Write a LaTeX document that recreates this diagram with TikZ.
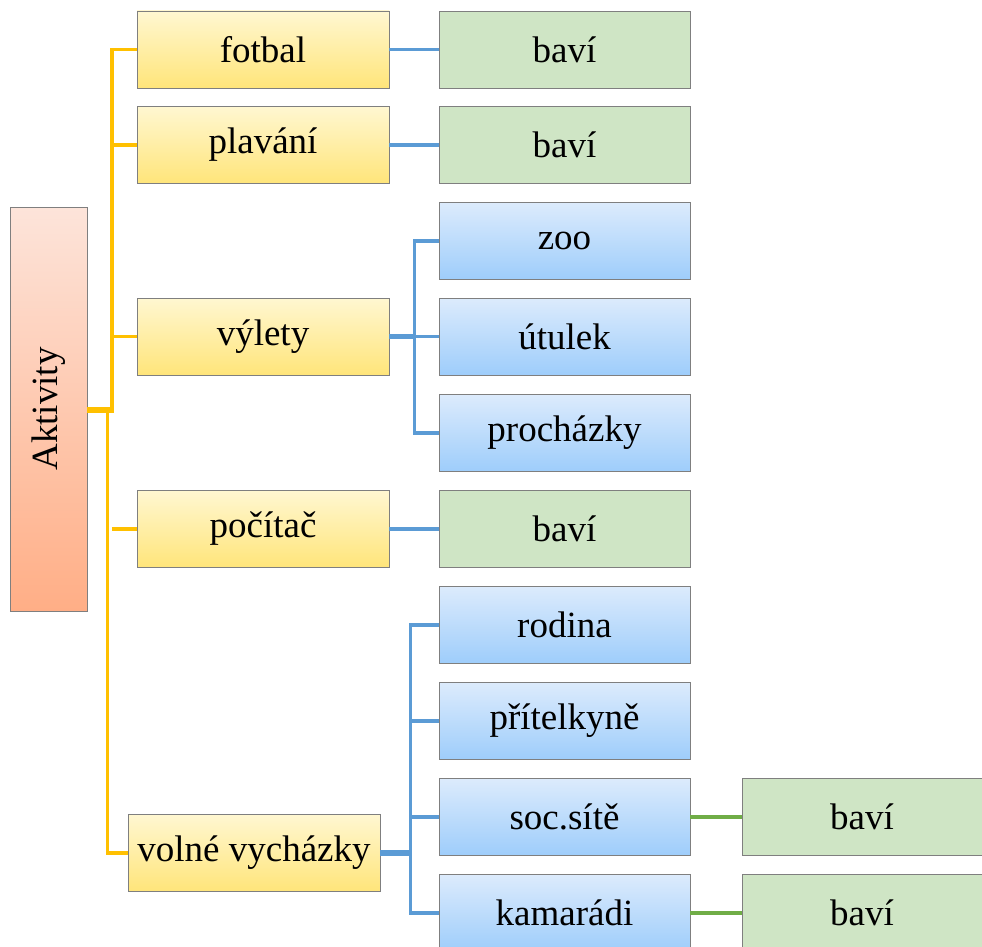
\documentclass[tikz,border=0pt]{standalone}
\usepackage{fontspec}
\setmainfont{Liberation Serif}
\definecolor{ytop}{HTML}{FFF7D1}
\definecolor{ybot}{HTML}{FFE57A}
\definecolor{btop}{HTML}{DCEBFC}
\definecolor{bbot}{HTML}{9ECDFB}
\definecolor{gfill}{HTML}{CFE5C5}
\definecolor{otop}{HTML}{FDE4DA}
\definecolor{obot}{HTML}{FFAE86}
\definecolor{bord}{HTML}{7F7F7F}
\definecolor{yline}{HTML}{FFC000}
\definecolor{bline}{HTML}{5B9BD5}
\definecolor{gline}{HTML}{70AD47}
\tikzset{
  boxbase/.style={draw=bord, line width=0.8pt, rectangle, inner sep=0pt,
    font=\fontsize{37}{40}\selectfont},
  ybox/.style={boxbase, top color=ytop, bottom color=ybot, minimum width=252pt, minimum height=77pt},
  bbox/.style={boxbase, top color=btop, bottom color=bbot, minimum width=251pt, minimum height=77pt},
  gbox/.style={boxbase, fill=gfill, minimum width=251pt, minimum height=77pt},
  gbox2/.style={boxbase, fill=gfill, minimum width=240pt, minimum height=77pt},
  obox/.style={boxbase, top color=otop, bottom color=obot, minimum width=77pt, minimum height=404pt},
  yl/.style={draw=yline, line width=3.2pt},
  ylthick/.style={draw=yline, line width=5.5pt},
  bl/.style={draw=bline, line width=3.2pt},
  blthick/.style={draw=bline, line width=5.5pt},
  gl/.style={draw=gline, line width=3.2pt},
}
\begin{document}
\begin{tikzpicture}[x=1pt,y=-1pt]
\useasboundingbox (0,0) rectangle (982,947);
% root
\node[obox] (akt) at (48.5,409) {};
\node[rotate=90, font=\fontsize{37}{40}\selectfont] (akttext) at (akt.center) {Aktivity};
% level 1
\node[ybox] (fotbal) at (263,49.5) {fotbal};
\node[ybox] (plavani) at (263,145) {plavání};
\node[ybox] (vylety) at (263,336.5) {výlety};
\node[ybox] (pocitac) at (263,529) {počítač};
\node[ybox] (volne) at (254,853) {volné vycházky};
% level 2
\node[gbox] (b1) at (564.5,49.5) {baví};
\node[gbox] (b2) at (564.5,145) {baví};
\node[bbox] (zoo) at (564.5,241) {zoo};
\node[bbox] (utulek) at (564.5,336.5) {útulek};
\node[bbox] (proch) at (564.5,433) {procházky};
\node[gbox] (b3) at (564.5,529) {baví};
\node[bbox] (rodina) at (564.5,625) {rodina};
\node[bbox] (pritel) at (564.5,721) {přítelkyně};
\node[bbox] (soc) at (564.5,817) {soc.sítě};
\node[bbox] (kam) at (564.5,913) {kamarádi};
% level 3
\node[gbox2] (b4) at (862,817) {baví};
\node[gbox2] (b5) at (862,913) {baví};
% yellow connectors
\coordinate (jA) at (112,410);
\coordinate (jB) at (107.5,410);
\draw[yl] (fotbal.west) -| (jA);
\draw[yl] (plavani.west) -- (plavani.west -| jA);
\draw[yl] (vylety.west) -- (vylety.west -| jA);
\draw[yl] (pocitac.west) -- (pocitac.west -| jA);
\draw[yl] (jB) |- (volne.west);
\draw[ylthick] (akt.east |- jA) -- ([xshift=1.5pt]jA);
% blue connectors
\draw[bl] (fotbal.east) -- (b1.west);
\draw[bl] (plavani.east) -- (b2.west);
\draw[bl] (pocitac.east) -- (b3.west);
\coordinate (jV) at (414.5,336.5);
\draw[bl] (zoo.west) -| (jV);
\draw[bl] (jV) |- (proch.west);
\draw[bl] (utulek.west) -- (jV);
\draw[blthick] (vylety.east) -- ([xshift=1.5pt]jV);
\coordinate (jW) at (410.5,853);
\draw[bl] (rodina.west) -| (jW);
\draw[bl] (jW) |- (kam.west);
\draw[bl] (pritel.west) -- (pritel.west -| jW);
\draw[bl] (soc.west) -- (soc.west -| jW);
\draw[blthick] (volne.east) -- ([xshift=1.5pt]jW);
% green connectors
\draw[gl] (soc.east) -- (b4.west);
\draw[gl] (kam.east) -- (b5.west);
\end{tikzpicture}
\end{document}
